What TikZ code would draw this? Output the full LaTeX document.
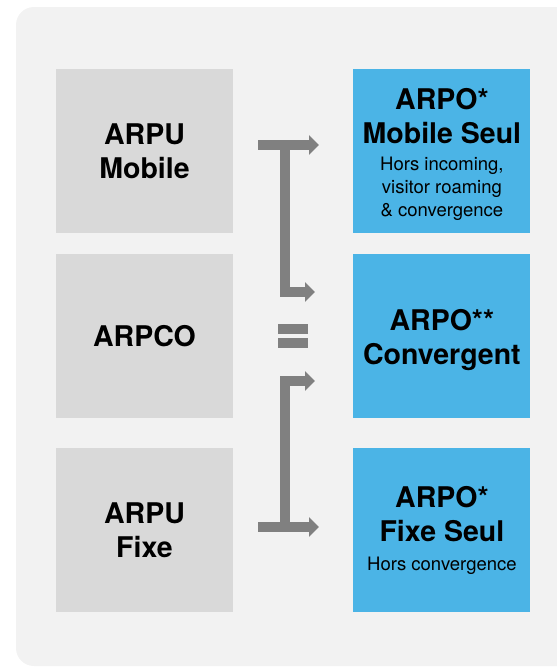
\documentclass[tikz,border=0pt]{standalone}
\usepackage{fontspec}
\setmainfont{TeX Gyre Heros}
\usetikzlibrary{arrows.meta, positioning}

\definecolor{panelGray}{HTML}{F2F2F2}
\definecolor{boxGray}{HTML}{D9D9D9}
\definecolor{boxBlue}{HTML}{4BB4E6}
\definecolor{arrowGray}{HTML}{808080}

\newcommand{\titleFont}{\fontsize{28.5}{34}\selectfont\bfseries}
\newcommand{\noteLines}[1]{{\fontsize{18.5}{23}\selectfont\mdseries\begin{tabular}[t]{@{}c@{}}#1\end{tabular}}}
\newcommand{\topGap}[1]{\rule{0pt}{#1}}% pushes a text block down in its box

\tikzset{
	kpibox/.style = {fill = boxGray, minimum width = 177pt, minimum height = 164pt, inner sep = 0pt, align = center, font = \titleFont},
	arpobox/.style = {kpibox, fill = boxBlue},
	flowarrow/.style = {draw = arrowGray, line width = 10pt, line join = miter, -{Triangle[length = 10pt, width = 19pt]}},
}

\begin{document}
\begin{tikzpicture}[x = 1pt, y = -1pt]
	\def\brX{284.5};
	\def\tailX{258};
	\def\longTip{319};
	\def\shortTip{315};

	\useasboundingbox (0,0) rectangle (557,667);
	\fill [panelGray, rounded corners = 18pt] (16,7) rectangle (580,666);

	% left column
	\node [kpibox] (arpuMobile) at (144.5,151) {ARPU\\Mobile};
	\node [kpibox, below = 21pt of arpuMobile] (arpco) {ARPCO};
	\node [kpibox, below = 29pt of arpco] (arpuFixe) {ARPU\\Fixe};

	% right column
	\node [arpobox, right = 120pt of arpuMobile] (arpoMobile) {\topGap{31pt}ARPO*\\Mobile Seul\\[-7pt]\noteLines{Hors incoming,\\visitor roaming\\\& convergence}};
	\node [arpobox, right = 120pt of arpco] (arpoConv) {\topGap{28pt}ARPO**\\Convergent};
	\node [arpobox, right = 120pt of arpuFixe] (arpoFixe) {\topGap{25pt}ARPO*\\Fixe Seul\\[-5pt]\noteLines{Hors convergence}};

	\coordinate (mobileTail) at (\tailX,145);
	\coordinate (mobileTip) at (\longTip,145);
	\coordinate (convTopTip) at (\shortTip,292);
	\coordinate (convLowTip) at (\shortTip,381);
	\coordinate (fixeTail) at (\tailX,527);
	\coordinate (fixeTip) at (\longTip,527);

	\begin{scope}[flowarrow]
		\draw (mobileTail) -- (mobileTip);
		\draw (\brX,141) |- (convTopTip);
		\draw (\brX,531) |- (convLowTip);
		\draw (fixeTail) -- (fixeTip);
	\end{scope}

	% equals sign
	\fill [arrowGray] (278,324) rectangle (308,334);
	\fill [arrowGray] (278,338) rectangle (308,348);
\end{tikzpicture}
\end{document}
